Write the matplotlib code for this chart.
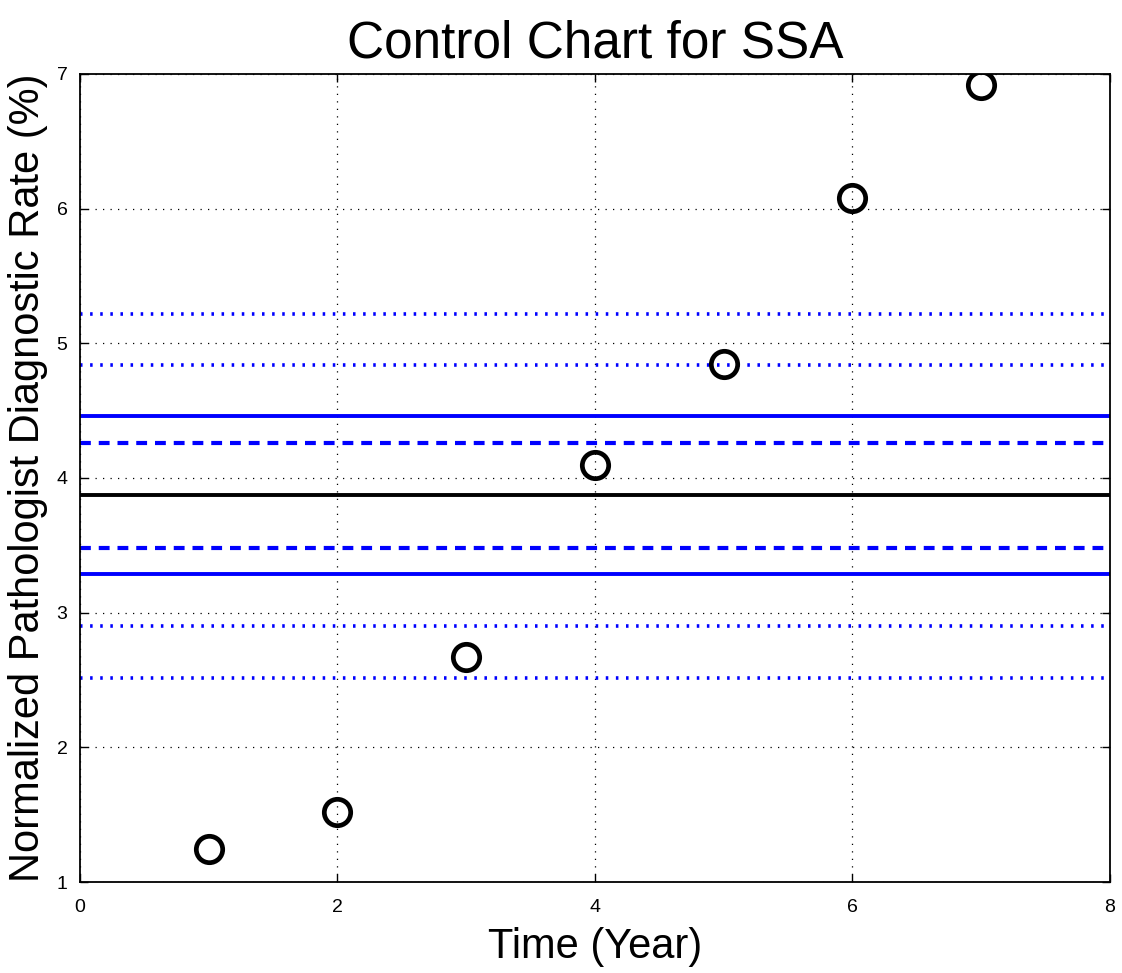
import numpy as np
import matplotlib
matplotlib.use("Agg")
import matplotlib.pyplot as plt

plt.rcParams['font.family'] = ['Liberation Sans', 'DejaVu Sans']

years = [1, 2, 3, 4, 5, 6, 7]
rates = [1.245, 1.52, 2.67, 4.10, 4.85, 6.08, 6.92]

center = 3.874
limits_solid = [4.46, 3.287]
limits_dashed = [4.26, 3.48]
limits_dotted = [5.22, 4.84, 2.90, 2.515]

fig = plt.figure(figsize=(11.22, 9.73), dpi=100)
ax = fig.add_axes([0.0713, 0.0935, 0.918, 0.8305])

ax.grid(True, color='black', linestyle=(0, (1, 5)), linewidth=0.9)
ax.set_axisbelow(True)

for y in limits_dotted:
    ax.axhline(y, color='#0000ff', linestyle=(0, (0.7, 2.1)), linewidth=2.6)
for y in limits_dashed:
    ax.axhline(y, color='#0000ff', linestyle=(0, (2.6, 1.9)), linewidth=3.0)
for y in limits_solid:
    ax.axhline(y, color='#0000ff', linestyle='-', linewidth=2.8)
ax.axhline(center, color='black', linestyle='-', linewidth=2.8)

ax.plot(years, rates, 'o', markersize=19, markerfacecolor='none',
        markeredgecolor='black', markeredgewidth=3.4, zorder=5)

ax.set_xlim(0, 8)
ax.set_ylim(1, 7)
ax.set_xticks([0, 2, 4, 6, 8])
ax.set_yticks([1, 2, 3, 4, 5, 6, 7])
ax.tick_params(direction='in', length=6, width=1, top=True, right=True,
               labelsize=14)
ax.tick_params(axis='x', pad=12)
ax.tick_params(axis='y', pad=9)
for s in ax.spines.values():
    s.set_linewidth(1.3)

ax.set_title('Control Chart for SSA', fontsize=37, pad=12)
ax.set_xlabel('Time (Year)', fontsize=30, labelpad=8)
ax.set_ylabel('Normalized Pathologist Diagnostic Rate (%)', fontsize=30, labelpad=6)

fig.savefig('out.png', dpi=100)
